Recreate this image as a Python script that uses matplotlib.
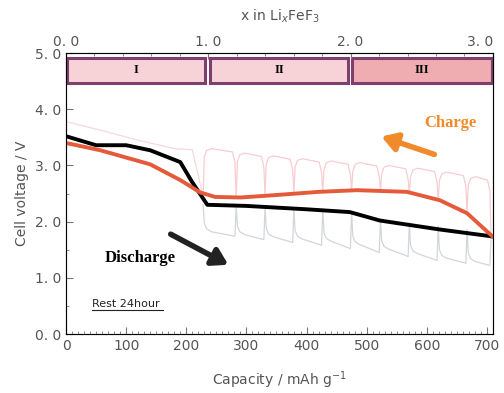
import matplotlib.pyplot as plt
from matplotlib.patches import Rectangle

# OCV curves (capacity / mAh g-1, voltage / V)
dis_cap = [0, 50, 100, 140, 190, 210, 235, 300, 400, 472, 522, 622, 707]
dis_v = [3.52, 3.36, 3.36, 3.27, 3.06, 2.70, 2.30, 2.28, 2.22, 2.17, 2.02, 1.86, 1.74]
chg_cap = [0, 57, 140, 190, 223, 248, 290, 345, 420, 484, 567, 622, 667, 709]
chg_v = [3.40, 3.27, 3.02, 2.74, 2.52, 2.44, 2.43, 2.47, 2.53, 2.56, 2.53, 2.38, 2.15, 1.74]

# faint GITT traces
pulse_edges = [228, 283, 331, 379, 427, 475, 523, 571, 619, 667, 707]
gray_top = [2.30, 2.28, 2.26, 2.24, 2.22, 2.17, 2.05, 1.98, 1.92, 1.86, 1.74]
gray_low_start = [1.85, 1.80, 1.76, 1.72, 1.68, 1.62, 1.54, 1.46, 1.38, 1.32]
gray_low_end = [1.74, 1.68, 1.63, 1.58, 1.52, 1.45, 1.38, 1.31, 1.26, 1.22]
pink_base = [2.45, 2.43, 2.47, 2.50, 2.53, 2.56, 2.55, 2.50, 2.38, 2.15, 1.74]
pink_high = [3.30, 3.22, 3.17, 3.12, 3.08, 3.05, 3.00, 2.95, 2.88, 2.80]
pink_first_cap = [0, 60, 120, 180, 210, 228]
pink_first_v = [3.78, 3.62, 3.45, 3.30, 3.28, 2.45]

regions = ["I", "II", "III"]
region_x = [(0, 233), (238, 471), (473, 710)]
region_colors = ["#f7d3d8", "#f7d3d8", "#efacb1"]

fig = plt.figure(figsize=(5.04, 3.93), dpi=100)
ax = fig.add_axes([0.131, 0.150, 0.847, 0.715])

# build faint pulse paths
gx, gy, px, py = [], [], [], []
for i in range(len(pulse_edges) - 1):
    c0, c1 = pulse_edges[i], pulse_edges[i + 1]
    gx += [c0, c0 + 2, c0 + 6, c0 + 14, c1 - 2, c1]
    gy += [gray_top[i], gray_low_start[i] + 0.12, gray_low_start[i] + 0.02, gray_low_start[i] - 0.03,
           gray_low_end[i], gray_top[i + 1]]
    px += [c0, c0 + 2, c0 + 6, c0 + 14, c1 - 6, c1 - 2, c1]
    py += [pink_base[i], pink_high[i] - 0.15, pink_high[i] - 0.03, pink_high[i],
           pink_high[i] - 0.06, pink_high[i] - 0.25, pink_base[i + 1]]
ax.plot(gx, gy, color="#d2d5da", lw=0.9, zorder=1)
ax.plot(px, py, color="#f7ccd2", lw=0.9, zorder=1)
ax.plot(pink_first_cap, pink_first_v, color="#f8d8dc", lw=0.9, zorder=1)

ax.plot(chg_cap, chg_v, color="#e45a3a", lw=2.8, zorder=3)
ax.plot(dis_cap, dis_v, color="black", lw=2.8, zorder=2)

ax.set_xlim(0, 710)
ax.set_ylim(0, 5)
ax.set_xticks(range(0, 701, 100))
ax.set_xticks(range(0, 711, 10), minor=True)
ax.set_yticks([0, 1, 2, 3, 4, 5])
ax.set_yticklabels(["0. 0", "1. 0", "2. 0", "3. 0", "4. 0", "5. 0"])
ax.set_yticks([0.5, 1.5, 2.5, 3.5, 4.5], minor=True)
ax.tick_params(which="both", direction="in", colors="#777777", labelcolor="#555555", labelsize=10)
ax.tick_params(which="major", length=5)
ax.tick_params(which="minor", length=2.5)
for s in ax.spines.values():
    s.set_color("#777777")
ax.set_xlabel("Capacity / mAh g$^{-1}$", color="#555555", fontsize=10, labelpad=12)
ax.set_ylabel("Cell voltage / V", color="#555555", fontsize=10)

top = ax.twiny()
top.set_xlim(0, 3)
top.set_xticks([0, 1, 2, 3])
top.set_xticklabels(["0. 0", "1. 0", "2. 0", "3. 0"])
top.get_xticklabels()[-1].set_ha("right")
top.set_xticks([i / 5 for i in range(16)], minor=True)
top.tick_params(which="both", direction="in", colors="#777777", labelcolor="#555555", labelsize=10, pad=3)
top.tick_params(which="major", length=4)
top.tick_params(which="minor", length=2.5)
top.set_xlabel("x in Li$_x$FeF$_3$", color="#555555", fontsize=10, labelpad=10)

for name, (x0, x1), c in zip(regions, region_x, region_colors):
    ax.add_patch(Rectangle((x0 + 2, 4.46), x1 - x0 - 4, 0.46, facecolor=c,
                           edgecolor="#7e3e6e", lw=2.2, zorder=5, clip_on=False))
    ax.text((x0 + x1) / 2, 4.69, name, ha="center", va="center", fontsize=9,
            fontweight="bold", family="Liberation Serif", zorder=6)

ax.text(640, 3.75, "Charge", color="#f08a2a", fontsize=12, fontweight="bold",
        family="Liberation Serif", ha="center", va="center")
ax.annotate("", xy=(520, 3.53), xytext=(617, 3.18),
            arrowprops=dict(arrowstyle="-|>,head_length=0.9,head_width=0.55", color="#f08a2a", lw=4))
ax.text(123, 1.35, "Discharge", color="black", fontsize=12, fontweight="bold",
        family="Liberation Serif", ha="center", va="center")
ax.annotate("", xy=(274, 1.21), xytext=(170, 1.80),
            arrowprops=dict(arrowstyle="-|>,head_length=0.9,head_width=0.55", color="#222222", lw=4))
ax.text(43, 0.53, "Rest 24hour", fontsize=8, ha="left", va="center", color="#222222")
ax.plot([43, 161], [0.43, 0.43], color="#222222", lw=0.8)

fig.savefig("out.png", dpi=100)
